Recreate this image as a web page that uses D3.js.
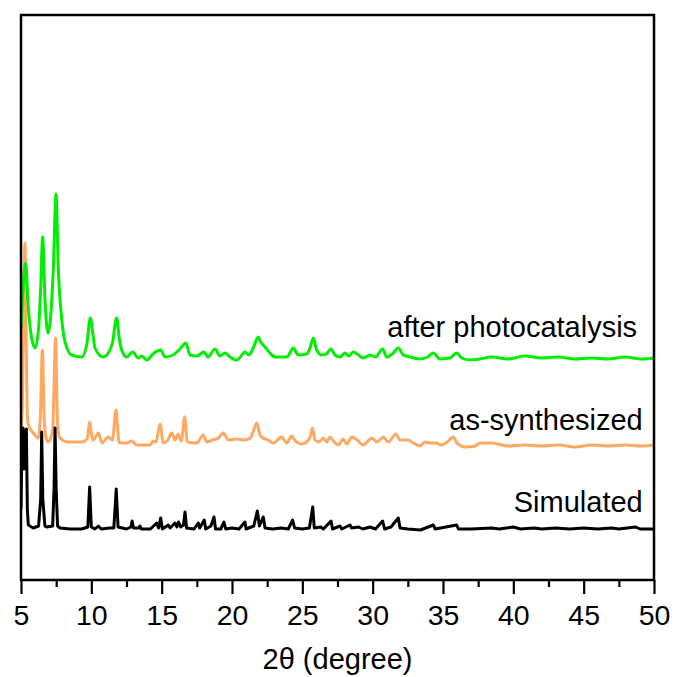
<!DOCTYPE html>
<html>
<head>
<meta charset="utf-8">
<script src="https://cdn.jsdelivr.net/npm/d3@7"></script>
<style>
  html, body { margin: 0; padding: 0; background: #fff; }
  svg { display: block; font-family: Arial, "Liberation Sans", sans-serif; }
</style>
</head>
<body>
<svg id="chart" width="675" height="677"></svg>
<script>
// Powder XRD patterns: [2θ (degree), intensity (a.u.)] above each pattern's own baseline.
const simulated = [
  [5.0,20],[5.08,100],[5.14,101],[5.22,60],[5.3,98],[5.38,100],[5.45,20],[5.52,4],[5.87,1],
  [6.25,3],[6.40,30],[6.47,97],[6.55,30],[6.7,3],[6.83,2],[7.25,3],[7.35,40],[7.42,101],[7.5,40],
  [7.6,3],[7.77,1],[8.5,0],[9.3,0],[9.75,2],[9.88,42],[10.0,2],[10.26,0],[10.5,3],[10.7,0],
  [11.3,1],[11.6,1],[11.77,40],[11.9,2],[12.5,0],[12.82,2],[12.9,8],[13.0,1],[13.35,1],[13.46,3],
  [13.55,0],[14.2,0],[14.65,6],[14.78,1],[14.93,11],[15.05,0],[15.47,4],[15.6,1],[15.95,6],
  [16.08,2],[16.2,7],[16.35,2],[16.55,4],[16.66,17],[16.77,1],[17.3,0],[17.6,6],[17.7,1],
  [18.03,9],[18.13,0],[18.5,3],[18.72,12],[18.83,0],[19.2,0],[19.43,7],[19.55,0],[20.0,1],
  [20.5,0],[20.92,7],[21.0,0],[21.55,3],[21.8,18],[21.95,3],[22.22,12],[22.35,1],[22.9,0],
  [23.5,1],[24.0,0],[24.31,9],[24.45,1],[25.0,0],[25.5,1],[25.74,22],[25.85,1],[26.3,2],
  [26.5,0],[27.04,8],[27.15,0],[27.68,3],[27.8,0],[28.39,4],[28.5,1],[29.0,2],[29.3,0],
  [29.81,2],[30.2,0],[30.71,8],[30.85,0],[31.3,2],[31.82,11],[31.95,1],[32.5,0],[33.4,-1],
  [34.31,4],[34.45,0],[35.97,4],[36.1,0],[37.0,0],[38.46,1],[39.0,0],[40.0,2],[40.5,0],
  [41.5,1],[42.0,0],[43.0,1],[44.0,0],[45.0,1],[46.0,0],[47.0,1],[47.5,0],[48.7,2],[49.0,0],[50.0,0]
];

const asSynthesized = [
  [5.0,15],[5.1,40],[5.2,150],[5.28,202],[5.36,120],[5.45,30],[5.52,20],[5.87,12],[6.23,7],
  [6.38,30],[6.52,95],[6.65,25],[6.8,6],[6.94,3],[7.25,15],[7.46,107],[7.6,20],[7.77,7],
  [8.36,3],[9.32,3],[9.7,6],[9.88,23],[10.05,8],[10.14,5],[10.5,12],[10.76,2],[11.18,8],
  [11.5,5],[11.75,35],[11.95,4],[12.04,2],[12.5,2],[12.87,4],[13.22,0],[14.17,0],[14.4,4],
  [14.6,3],[14.88,21],[15.12,2],[15.4,4],[15.71,12],[15.95,5],[16.18,11],[16.4,4],[16.64,28],
  [16.82,3],[17.49,2],[17.96,10],[18.2,3],[18.6,5],[19.03,7],[19.38,12],[19.74,5],[20.33,6],
  [20.9,5],[21.3,7],[21.55,15],[21.76,22],[21.99,10],[22.2,7],[22.58,5],[22.94,2],[23.53,8],
  [23.89,2],[24.24,9],[24.5,4],[24.95,1],[25.3,3],[25.55,8],[25.71,17],[25.9,5],[26.2,3],
  [26.49,7],[26.75,3],[26.97,8],[27.25,3],[27.56,0],[27.91,6],[28.15,1],[28.51,8],[28.9,5],
  [29.33,0],[29.6,3],[29.93,7],[30.3,3],[30.76,8],[31.1,3],[31.66,11],[31.94,5],[32.5,5],
  [32.89,2],[33.36,-1],[33.7,3],[34.08,2],[34.5,2],[34.91,0],[35.3,3],[35.73,8],[36.0,2],
  [36.56,-2],[37.27,-1],[37.63,2],[38.46,2],[39.64,-1],[40.83,0],[42.0,-1],[43.2,0],
  [44.38,-2],[45.57,0],[46.75,-1],[47.94,0],[49.12,-1],[50.0,0]
];

const afterPhotocatalysis = [
  [5.0,30],[5.15,70],[5.33,95],[5.5,55],[5.7,25],[6.0,10],[6.25,30],[6.4,70],[6.54,121],
  [6.7,60],[6.85,30],[6.94,25],[7.1,40],[7.3,90],[7.49,164],[7.65,90],[7.89,40],[8.13,16],
  [8.6,3],[9.32,1],[9.67,13],[9.93,40],[10.1,25],[10.26,10],[10.83,1],[11.2,5],[11.5,15],
  [11.8,40],[12.0,18],[12.16,8],[12.51,1],[12.94,6],[13.34,0],[13.6,2],[13.94,-2],[14.38,4],
  [14.93,8],[15.24,1],[15.81,3],[16.3,9],[16.73,15],[17.01,3],[17.49,2],[18.01,6],[18.29,1],
  [18.79,9],[19.15,2],[19.5,5],[19.86,1],[20.33,-2],[20.6,1],[20.92,6],[21.21,3],[21.51,10],
  [21.87,21],[22.0,17],[22.35,11],[22.7,5],[23.06,1],[23.5,1],[23.9,1],[24.36,10],[24.71,3],
  [25.31,4],[25.55,10],[25.78,20],[26.02,8],[26.38,3],[26.7,4],[27.04,9],[27.32,3],[27.68,1],
  [28.03,5],[28.3,2],[28.62,6],[29.0,3],[29.33,0],[29.81,3],[30.2,1],[30.71,9],[31.0,1],
  [31.4,4],[31.82,10],[32.18,3],[32.65,1],[33.36,-1],[33.9,1],[34.31,5],[34.79,-1],[35.5,0],
  [35.97,5],[36.33,0],[36.92,-2],[37.63,-1],[38.46,1],[39.64,-1],[40.83,2],[42.0,0],[43.2,1],
  [44.38,-1],[45.57,0],[46.75,-1],[47.94,1],[49.12,-1],[50.0,0]
];

// Vertical stacking offsets (a.u.) and labels for each pattern
const seriesNames = ["as-synthesized", "Simulated", "after photocatalysis"];
const seriesOffsets = [135, 51, 222];
const seriesColors = ["#ffa862", "#000000", "#00ee00"];
const seriesData = [asSynthesized, simulated, afterPhotocatalysis];
const labelHeights = [150, 68, 243];

const xTicks = [5, 10, 15, 20, 25, 30, 35, 40, 45, 50];
const xMinorTicks = [7.5, 12.5, 17.5, 22.5, 27.5, 32.5, 37.5, 42.5, 47.5];
const xTitle = "2\u03b8 (degree)";

const svg = d3.select("#chart");
const frame = { left: 21, right: 654, top: 15, bottom: 580 };

const x = d3.scaleLinear().domain([5, 50]).range([frame.left, frame.right]);
const y = d3.scaleLinear().domain([0, 565]).range([frame.bottom, frame.top]);

svg.append("defs").append("clipPath").attr("id", "plot-clip")
  .append("rect").attr("x", frame.left).attr("y", frame.top)
  .attr("width", frame.right - frame.left).attr("height", frame.bottom - frame.top);

// Measured patterns are drawn smooth; the simulated one keeps its sharp reflections
const curves = [d3.curveMonotoneX, d3.curveLinear, d3.curveMonotoneX];
const plot = svg.append("g").attr("clip-path", "url(#plot-clip)");
seriesData.forEach((data, i) => {
  const line = d3.line()
    .curve(curves[i])
    .x(d => x(d[0]))
    .y(d => y(d[1] + seriesOffsets[i]));
  plot.append("path")
    .attr("fill", "none")
    .attr("stroke", seriesColors[i])
    .attr("stroke-width", 3)
    .attr("stroke-linejoin", "round")
    .attr("d", line(data));
});

// Pattern labels, right-aligned above each trace
const labelRight = [49.2, 49.2, 48.8];
seriesNames.forEach((name, i) => {
  svg.append("text")
    .attr("x", x(labelRight[i]))
    .attr("y", y(labelHeights[i]))
    .attr("text-anchor", "end")
    .attr("font-size", 29)
    .attr("fill", "#000")
    .text(name);
});

// Bottom axis with outward ticks
const xAxis = d3.axisBottom(x).tickValues(xTicks).tickSize(14).tickPadding(11)
  .tickFormat(d3.format("d"));
const gx = svg.append("g").attr("transform", `translate(0,${frame.bottom})`).call(xAxis);
gx.select(".domain").remove();
gx.selectAll(".tick line").attr("stroke", "#000").attr("stroke-width", 2.2);
gx.selectAll(".tick text").attr("font-size", 28.5).attr("fill", "#000")
  .attr("font-family", "Arial, 'Liberation Sans', sans-serif");

const gxm = svg.append("g").attr("transform", `translate(0,${frame.bottom})`)
  .call(d3.axisBottom(x).tickValues(xMinorTicks).tickSize(7).tickFormat(""));
gxm.select(".domain").remove();
gxm.selectAll(".tick line").attr("stroke", "#000").attr("stroke-width", 2.2);

// Frame
svg.append("rect")
  .attr("x", frame.left).attr("y", frame.top)
  .attr("width", frame.right - frame.left).attr("height", frame.bottom - frame.top)
  .attr("fill", "none").attr("stroke", "#000").attr("stroke-width", 2.5);

svg.append("text")
  .attr("x", (frame.left + frame.right) / 2)
  .attr("y", 669)
  .attr("text-anchor", "middle")
  .attr("font-size", 29)
  .attr("fill", "#000")
  .text(xTitle);
</script>
</body>
</html>
